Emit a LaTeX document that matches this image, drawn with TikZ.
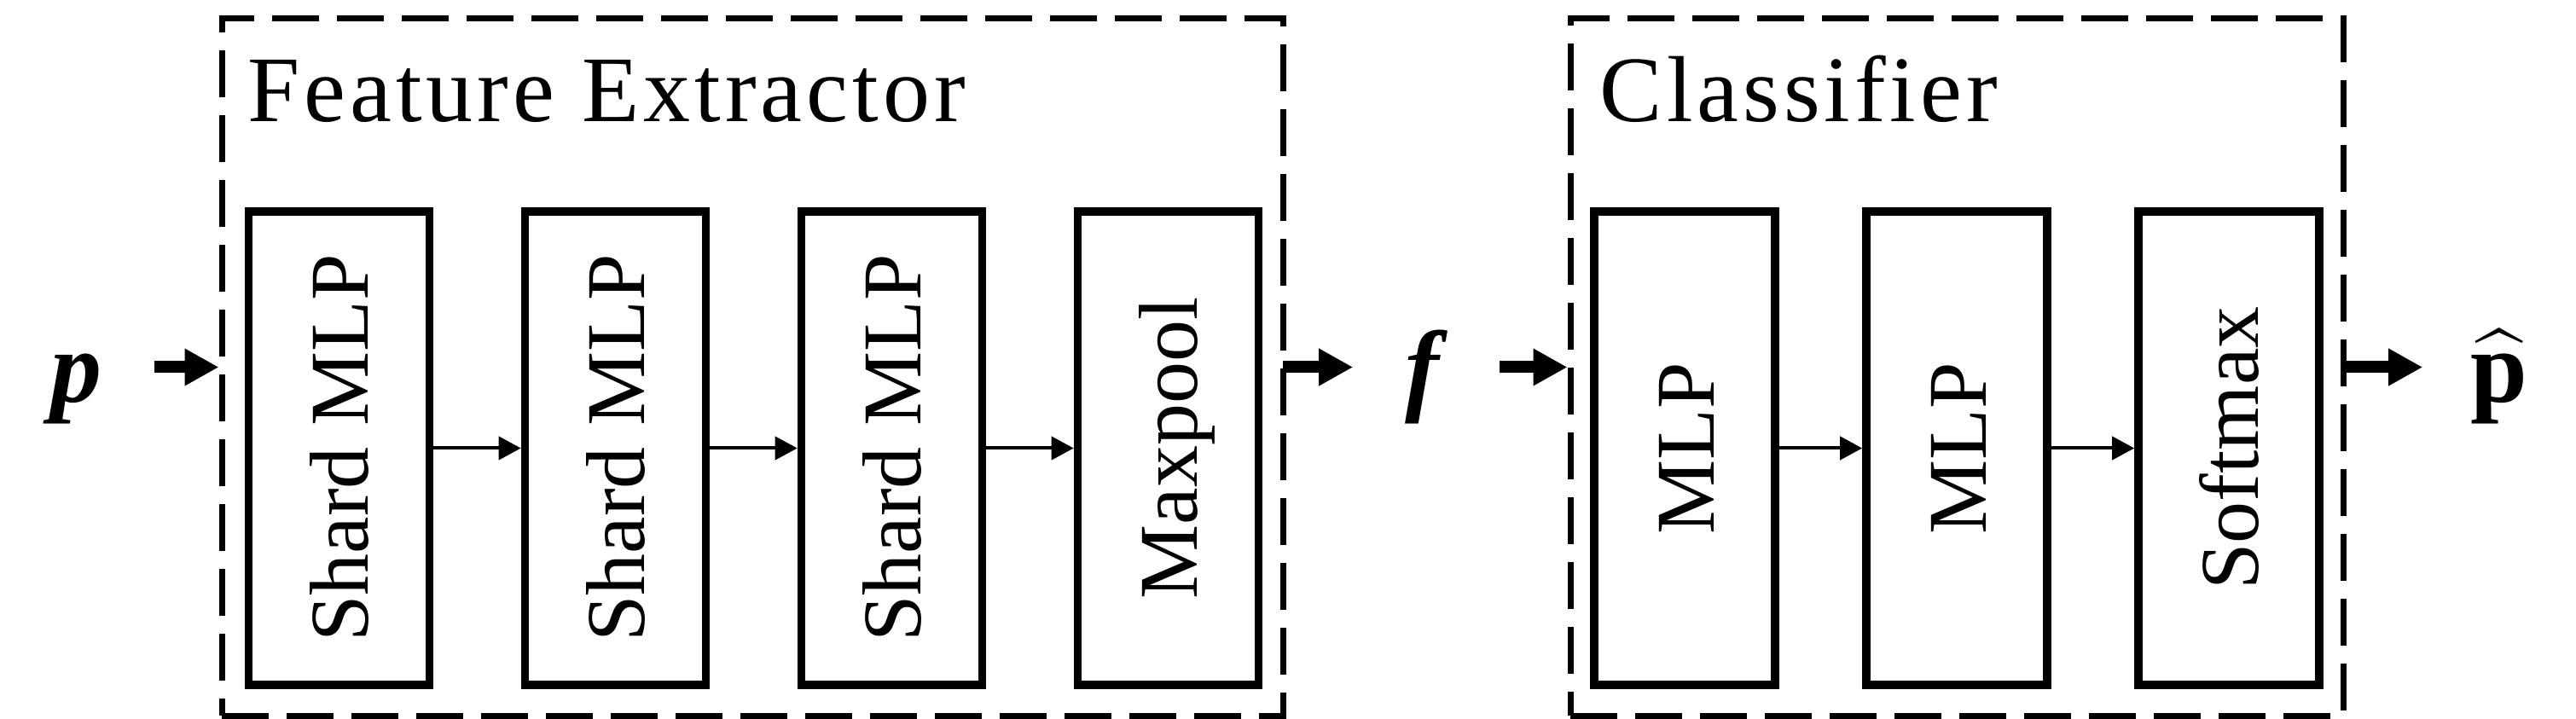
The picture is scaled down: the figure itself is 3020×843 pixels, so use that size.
\documentclass[tikz,border=0pt]{standalone}
\usepackage{exscale}
\usepackage{fontspec}
\setmainfont{Liberation Serif}
\usetikzlibrary{arrows.meta}
\newcommand{\vlabel}[1]{\rotatebox{90}{\raisebox{0pt}[0.7em][0pt]{#1}}}
\begin{document}
\begin{tikzpicture}[x=0.25pt,y=-0.25pt,
  box/.style={draw, line width=2.4pt, minimum width=53pt, minimum height=138.75pt,
    inner sep=0pt, font=\fontsize{24.5pt}{29pt}\selectfont},
  dashbox/.style={draw, line width=1.75pt, dash pattern=on 13.75pt off 5.25pt,
    minimum height=204.5pt, inner sep=0pt},
  title/.style={anchor=base west, inner sep=0pt,
    font=\fontsize{27.5pt}{33pt}\selectfont\addfontfeature{LetterSpace=4.5}},
  sym/.style={inner sep=0pt, text height=20.75pt, text depth=0pt,
    font=\fontsize{30pt}{36pt}\selectfont},
  bigarrow/.style={line width=3.5pt, -{Triangle[length=10pt,width=10.25pt]}},
  smallarrow/.style={line width=1pt, -{Triangle[length=6.5pt,width=6.75pt]}}]
\useasboundingbox (0,0) rectangle (3020,843);

% dashed group boxes
\node[dashbox, minimum width=311pt] (fe) at (882,430.5) {};
\node[dashbox, minimum width=226.5pt] (cl) at (2294,430.5) {};

% titles
\node[title] (fet) at (290,143) {Feature Extractor};
\node[title] (clt) at (1875,143) {Classifier};

% feature extractor blocks
\node[box] (b1) at (397.5,525.5) {\vlabel{Shard MLP}};
\node[box] (b2) at (721.5,525.5) {\vlabel{Shard MLP}};
\node[box] (b3) at (1045.5,525.5) {\vlabel{Shard MLP}};
\node[box] (b4) at (1369.5,525.5) {\vlabel{Maxpool}};

% classifier blocks
\node[box] (c1) at (1975,525.5) {\vlabel{MLP}};
\node[box] (c2) at (2294,525.5) {\vlabel{MLP}};
\node[box] (c3) at (2613,525.5) {\vlabel{Softmax}};

% symbols
\node[sym, minimum width=45.5pt] (p) at (89,430.5) {\textbf{\textit{p}}};
\node[sym, minimum width=42.5pt] (f) at (1672,430.5) {\textbf{\textit{f}}};
\node[sym, minimum width=44.5pt] (ph) at (2930,430.5) {$\widehat{\hbox{\bfseries p}}$};

% connectors
\draw[bigarrow] (p.east) -- (fe.west);
\draw[bigarrow] ([xshift=-0.875pt]fe.east) -- (f.west);
\draw[bigarrow] (f.east) -- (cl.west);
\draw[bigarrow] ([xshift=-0.875pt]cl.east) -- (ph.west);

\draw[smallarrow] (b1.east) -- (b2.west);
\draw[smallarrow] (b2.east) -- (b3.west);
\draw[smallarrow] (b3.east) -- (b4.west);
\draw[smallarrow] (c1.east) -- (c2.west);
\draw[smallarrow] (c2.east) -- (c3.west);
\end{tikzpicture}
\end{document}
